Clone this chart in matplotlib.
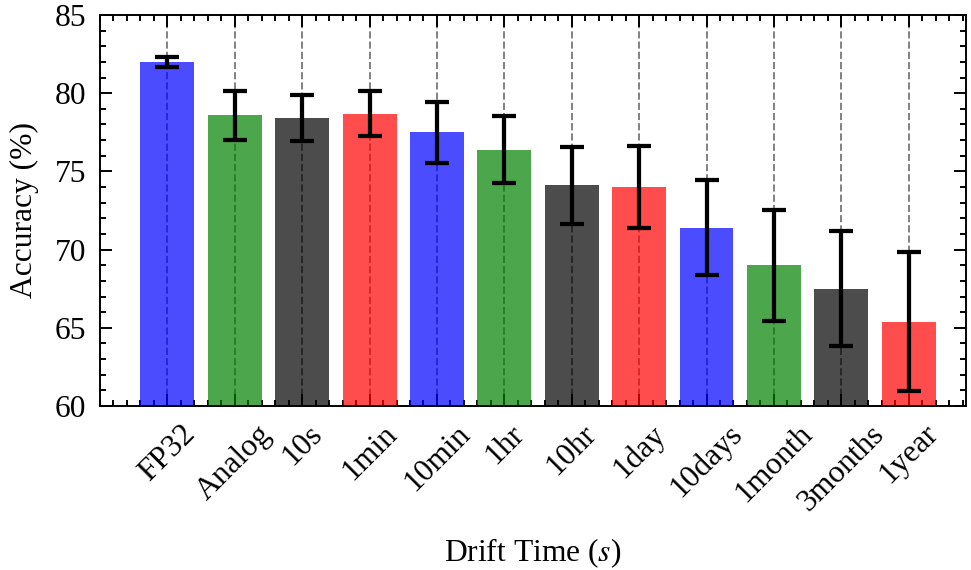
import numpy as np
import matplotlib
matplotlib.use("Agg")
import matplotlib.pyplot as plt
from matplotlib.ticker import MultipleLocator

# ---- data ----
labels = ["FP32", "Analog", "10s", "1min", "10min", "1hr", "10hr",
          "1day", "10days", "1month", "3months", "1year"]
accuracy = [82.0, 78.6, 78.4, 78.7, 77.5, 76.4, 74.1, 74.0, 71.4, 69.0, 67.5, 65.4]
error = [0.33, 1.57, 1.48, 1.43, 1.94, 2.14, 2.47, 2.61, 3.04, 3.54, 3.68, 4.43]
palette = ["blue", "green", "black", "red"]

# ---- science-style look ----
plt.rcParams.update({
    "font.family": ["Liberation Serif", "DejaVu Serif"],
    "mathtext.fontset": "stix",
    "font.size": 8.2,
    "axes.linewidth": 0.5,
    "xtick.direction": "in",
    "ytick.direction": "in",
    "xtick.top": True,
    "ytick.right": True,
    "xtick.major.size": 3,
    "xtick.minor.size": 1.5,
    "ytick.major.size": 3,
    "ytick.minor.size": 1.5,
    "xtick.major.width": 0.5,
    "xtick.minor.width": 0.5,
    "ytick.major.width": 0.5,
    "ytick.minor.width": 0.5,
    "xtick.minor.visible": True,
    "ytick.minor.visible": True,
})

dpi = 277.4
fig = plt.figure(figsize=(971 / dpi, 570 / dpi), dpi=dpi)
ax = fig.add_axes([100 / 971, 1 - 406 / 570, 866 / 971, 391 / 570])

x = np.arange(len(labels))
colors = [palette[i % len(palette)] for i in range(len(labels))]
ax.bar(x, accuracy, width=0.8, color=colors, alpha=0.7, zorder=2)
ax.errorbar(x, accuracy, yerr=error, fmt="none", ecolor="black",
            elinewidth=1.1, capsize=3, capthick=1.1, zorder=3)

ax.grid(axis="x", linestyle="--", color="gray", linewidth=0.5, zorder=1)
ax.set_axisbelow(True)

ax.set_xlim(-1, 11.85)
ax.set_ylim(60, 85)
ax.set_xticks(x)
ax.set_xticklabels(labels, rotation=45, ha="center")
ax.xaxis.set_minor_locator(MultipleLocator(0.2))
ax.yaxis.set_major_locator(MultipleLocator(5))
ax.yaxis.set_minor_locator(MultipleLocator(1))

ax.set_xlabel("Drift Time ($s$)", labelpad=5)
ax.set_ylabel("Accuracy (%)")

fig.savefig("out.png", dpi=dpi)
